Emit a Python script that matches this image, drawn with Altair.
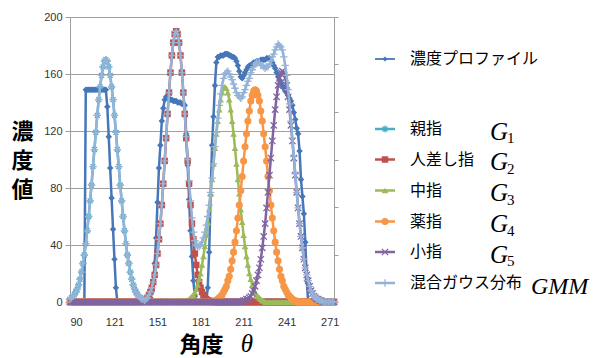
import altair as alt
import pandas as pd

# ---------------- data ----------------
ANGLES = list(range(90, 275))

PROFILE = [
    0, 0, 0, 0, 0, 0, 0, 0, 0, 0,                      # 90-99
    0, 149, 149, 149, 149, 149, 149, 149, 149, 149,    # 100-109
    149, 149, 149, 149, 149, 149, 137, 116, 94, 73,    # 110-119
    51, 30, 10, 0, 0, 0, 0, 0, 0, 0,                   # 120-129
    0, 0, 0, 0, 0, 0, 0, 0, 0, 0,                      # 130-139
    0, 0, 0, 0, 0, 2, 3, 7, 14, 27,                    # 140-149
    45, 70, 94, 110, 127, 136, 142, 144, 143, 143,     # 150-159
    142, 142, 141, 141, 141, 140, 140, 140, 139, 139,  # 160-169
    138, 118, 96, 72, 50, 32, 15, 4, 0, 0,             # 170-179
    0, 0, 0, 0, 0, 0, 10, 35, 75, 110,                 # 180-189
    130, 152, 168, 172, 172, 173, 173, 173, 174, 174,  # 190-199
    174, 173, 173, 172, 172, 171, 169, 166, 162, 158,  # 200-209
    157, 159, 161, 163, 165, 166, 166, 167, 168, 168,  # 210-219
    169, 169, 169, 170, 170, 170, 170, 171, 171, 171,  # 220-229
    170, 168, 166, 164, 161, 158, 156, 154, 152, 150,  # 230-239
    148, 147, 145, 143, 141, 138, 133, 128, 122, 118,  # 240-249
    106, 86, 74, 62, 42, 15, 0, 0, 0, 0,               # 250-259
    0, 0, 0, 0, 0, 0, 0, 0, 0, 0,                      # 260-269
    0, 0, 0, 0, 0,                                     # 270-274
]

# non-zero stretch of each finger component (start angle, values); zero elsewhere
G1_START = 90
G1 = [2, 3, 4, 5, 7, 9, 12, 16, 21, 27, 33, 41, 50, 60, 71, 82, 95, 107, 119, 131,
      142, 151, 159, 165, 169, 170, 169, 165, 159, 151, 142, 131, 119, 107, 95, 82,
      71, 60, 50, 41, 33, 27, 21, 16, 12, 9, 7, 5, 4, 3, 2, 1]
G2_START = 141
G2 = [1, 1, 2, 3, 5, 7, 10, 14, 19, 26, 34, 44, 55, 68, 83, 99, 115, 132, 147, 161,
      173, 182, 188, 190, 188, 182, 173, 161, 147, 132, 115, 99, 83, 68, 55, 44, 34,
      26, 19, 14, 10, 7, 5, 3, 2, 1, 1]
G3_START = 171
G3 = [1, 1, 2, 3, 4, 5, 7, 9, 12, 16, 20, 26, 32, 39, 47, 56, 65, 76, 86, 97, 108,
      118, 127, 135, 142, 147, 150, 151, 150, 147, 142, 135, 127, 118, 108, 97, 86,
      76, 65, 56, 47, 39, 32, 26, 20, 16, 12, 9, 7, 5, 4, 3, 2, 1, 1]
G4_START = 191
G4 = [1, 1, 2, 3, 4, 5, 7, 9, 11, 15, 18, 23, 29, 35, 42, 50, 59, 68, 78, 88, 99,
      109, 118, 127, 134, 141, 145, 148, 149, 148, 145, 141, 134, 127, 118, 109, 99,
      88, 78, 68, 59, 50, 42, 35, 29, 23, 18, 15, 11, 9, 7, 5, 4, 3, 2, 1, 1]
G5_START = 211
G5 = [1, 1, 2, 2, 3, 4, 6, 8, 11, 15, 19, 24, 30, 38, 46, 55, 66, 77, 89, 101, 113,
      124, 135, 144, 152, 157, 161, 162, 161, 157, 152, 144, 135, 124, 113, 101, 89,
      77, 66, 55, 46, 38, 30, 24, 19, 15, 11, 8, 6, 4, 3, 2, 2, 1, 1]

GMM = [
    2, 3, 4, 5, 7, 9, 12, 16, 21, 27,                  # 90-99
    33, 41, 50, 60, 71, 82, 95, 107, 119, 131,         # 100-109
    142, 151, 159, 165, 169, 170, 169, 165, 159, 151,  # 110-119
    142, 131, 119, 107, 95, 82, 71, 60, 50, 41,        # 120-129
    33, 27, 21, 16, 12, 9, 7, 5, 4, 3,                 # 130-139
    2, 2, 1, 2, 3, 5, 7, 10, 14, 19,                   # 140-149
    26, 34, 44, 55, 68, 83, 99, 115, 132, 147,         # 150-159
    161, 173, 182, 188, 190, 188, 182, 173, 161, 147,  # 160-169
    132, 116, 100, 85, 71, 59, 49, 43, 40, 39,         # 170-179
    39, 40, 42, 45, 49, 54, 60, 68, 77, 87,            # 180-189
    97, 109, 119, 129, 138, 146, 152, 157, 160, 161,   # 190-199
    162, 160, 158, 156, 153, 150, 147, 145, 144, 143,  # 200-209
    144, 147, 149, 152, 155, 157, 161, 163, 165, 167,  # 210-219
    168, 168, 168, 166, 166, 165, 164, 165, 165, 167,  # 220-229
    169, 172, 174, 177, 179, 181, 180, 179, 177, 172,  # 230-239
    166, 159, 149, 139, 127, 115, 102, 90, 77, 66,     # 240-249
    55, 46, 38, 30, 24, 19, 15, 11, 8, 6,              # 250-259
    4, 3, 2, 2, 1, 1, 0, 0, 0, 0,                      # 260-269
    0, 0, 0, 0, 0,                                     # 270-274
]

SERIES_NAMES = ["濃度プロファイル", "親指", "人差し指", "中指", "薬指", "小指", "混合ガウス分布"]
SUBSCRIPTS = ["", "1", "2", "3", "4", "5", ""]
Y_TITLE_CHARS = ["濃", "度", "値"]
X_TICKS = [90, 121, 151, 181, 211, 241, 271]
Y_TICKS = [0, 40, 80, 120, 160, 200]
RIGHT_TICKS = [0, 1, 2, 3, 4, 5, 6]


def padded(start, window):
    vals = [0] * len(ANGLES)
    for i, v in enumerate(window):
        vals[start - ANGLES[0] + i] = v
    return vals


SERIES_VALUES = [
    PROFILE,
    padded(G1_START, G1),
    padded(G2_START, G2),
    padded(G3_START, G3),
    padded(G4_START, G4),
    padded(G5_START, G5),
    GMM,
]

# ---------------- styles ----------------
ASTERISK = "M -1 0 L 1 0 M 0 -1 L 0 1 M -0.7 -0.7 L 0.7 0.7 M -0.7 0.7 L 0.7 -0.7"
XMARK = "M -1 -1 L 1 1 M -1 1 L 1 -1"
PLUS = "M -1 0 L 1 0 M 0 -1 L 0 1"

STYLES = [
    dict(color="#4677B8", shape="diamond", filled=True, size=42),
    dict(color="#4BACC6", shape=ASTERISK, filled=False, size=50),
    dict(color="#C0504D", shape="square", filled=True, size=42),
    dict(color="#9BBB59", shape="triangle-up", filled=True, size=44),
    dict(color="#F79646", shape="circle", filled=True, size=50),
    dict(color="#8064A2", shape=XMARK, filled=False, size=40),
    dict(color="#95B3D7", shape=PLUS, filled=False, size=56),
]

JP = "Noto Sans CJK JP"
NUM = "Liberation Sans"
SERIF = "Liberation Serif"

X = alt.X(
    "angle:Q",
    scale=alt.Scale(domain=[90, 274], nice=False, zero=False),
    axis=alt.Axis(values=X_TICKS, grid=False, ticks=False, domain=True,
                  domainColor="#9E9E9E", labelFont=NUM, labelFontSize=11,
                  labelColor="#333333", labelPadding=14, title=None),
)
Y = alt.Y(
    "value:Q",
    scale=alt.Scale(domain=[0, 200], nice=False),
    axis=alt.Axis(values=Y_TICKS, grid=True, gridColor="#A0A0A0", gridWidth=1,
                  ticks=True, tickSize=5, tickColor="#9E9E9E", domain=True,
                  domainColor="#9E9E9E", labelFont=NUM, labelFontSize=11,
                  labelColor="#333333", labelPadding=3, title=None),
)


def point_props(st, scale=1.0):
    pt = dict(shape=st["shape"], size=st["size"] * scale, opacity=1)
    if st["filled"]:
        pt.update(filled=True, color=st["color"], strokeWidth=0)
    else:
        pt.update(filled=False, color=st["color"], strokeWidth=1.3)
    return pt


layers = []
for name, vals, st in zip(SERIES_NAMES, SERIES_VALUES, STYLES):
    df = pd.DataFrame({"angle": ANGLES, "value": vals, "series": name})
    base = alt.Chart(df)
    layers.append(base.mark_line(color=st["color"], strokeWidth=2.5).encode(x=X, y=Y))
    layers.append(base.mark_point(**point_props(st)).encode(x=X, y=Y))

# ---------------- legend (drawn by hand to copy the layout) ----------------
ROW_Y = [42, 112, 142.5, 173.5, 204.5, 235, 266]
for i, (name, sub, st) in enumerate(zip(SERIES_NAMES, SUBSCRIPTS, STYLES)):
    ry = ROW_Y[i]
    one = alt.Chart(pd.DataFrame({"label": [name], "sub": [sub]}))
    layers.append(one.mark_rule(color=st["color"], strokeWidth=2.5 if i else 1.8).encode(
        x=alt.value(305), x2=alt.value(325), y=alt.value(ry)))
    layers.append(one.mark_point(**point_props(st, 0.6 if i == 0 else 1.0)).encode(
        x=alt.value(315), y=alt.value(ry)))
    layers.append(one.mark_text(font=JP, fontSize=16, align="left", baseline="middle",
                                color="#000000").encode(
        x=alt.value(340), y=alt.value(ry), text="label:N"))
    if sub:
        layers.append(one.mark_text(font=SERIF, fontSize=25, fontStyle="italic",
                                    align="left", baseline="alphabetic",
                                    color="#000000").encode(
            x=alt.value(420), y=alt.value(ry + 10.5), text=alt.value("G")))
        layers.append(one.mark_text(font=SERIF, fontSize=15, align="left",
                                    baseline="alphabetic", color="#000000").encode(
            x=alt.value(437), y=alt.value(ry + 14), text="sub:N"))
    elif i == 6:
        layers.append(one.mark_text(font=SERIF, fontSize=24, fontStyle="italic",
                                    align="left", baseline="alphabetic",
                                    color="#000000").encode(
            x=alt.value(461), y=alt.value(ry + 10.5), text=alt.value("GMM")))

# ---------------- axis titles ----------------
for j, ch in enumerate(Y_TITLE_CHARS):
    layers.append(alt.Chart(pd.DataFrame({"c": [ch]})).mark_text(
        font=JP, fontSize=22, fontWeight="bold", align="center", baseline="middle",
        color="#000000").encode(
        x=alt.value(-47.5), y=alt.value(115 + 29 * j), text="c:N"))

dummy = alt.Chart(pd.DataFrame({"d": [0]}))
layers.append(dummy.mark_text(font=JP, fontSize=22, fontWeight="bold", align="center",
                              baseline="middle", color="#000000").encode(
    x=alt.value(131.5), y=alt.value(328), text=alt.value("角度")))
layers.append(dummy.mark_text(font=SERIF, fontSize=25, fontStyle="italic", align="center",
                              baseline="middle", color="#000000").encode(
    x=alt.value(177), y=alt.value(327), text=alt.value("θ")))

main = alt.layer(*layers)

right_axis = alt.Chart(pd.DataFrame({"r": RIGHT_TICKS})).mark_point(opacity=0).encode(
    y=alt.Y("r:Q", scale=alt.Scale(domain=[0, 6], nice=False),
            axis=alt.Axis(orient="right", values=RIGHT_TICKS, labels=False, ticks=True,
                          tickSize=4, tickColor="#9E9E9E", domainColor="#9E9E9E",
                          grid=False, title=None)),
    x=alt.value(0),
)

chart = alt.layer(main, right_axis).resolve_scale(y="independent").properties(
    width=264, height=285,
    padding={"left": 62, "top": 9, "right": 256, "bottom": 56},
    autosize="none",
).configure_view(stroke=None).configure(background="white")

chart.save("out.html", embed_options={"renderer": "svg", "actions": False})
